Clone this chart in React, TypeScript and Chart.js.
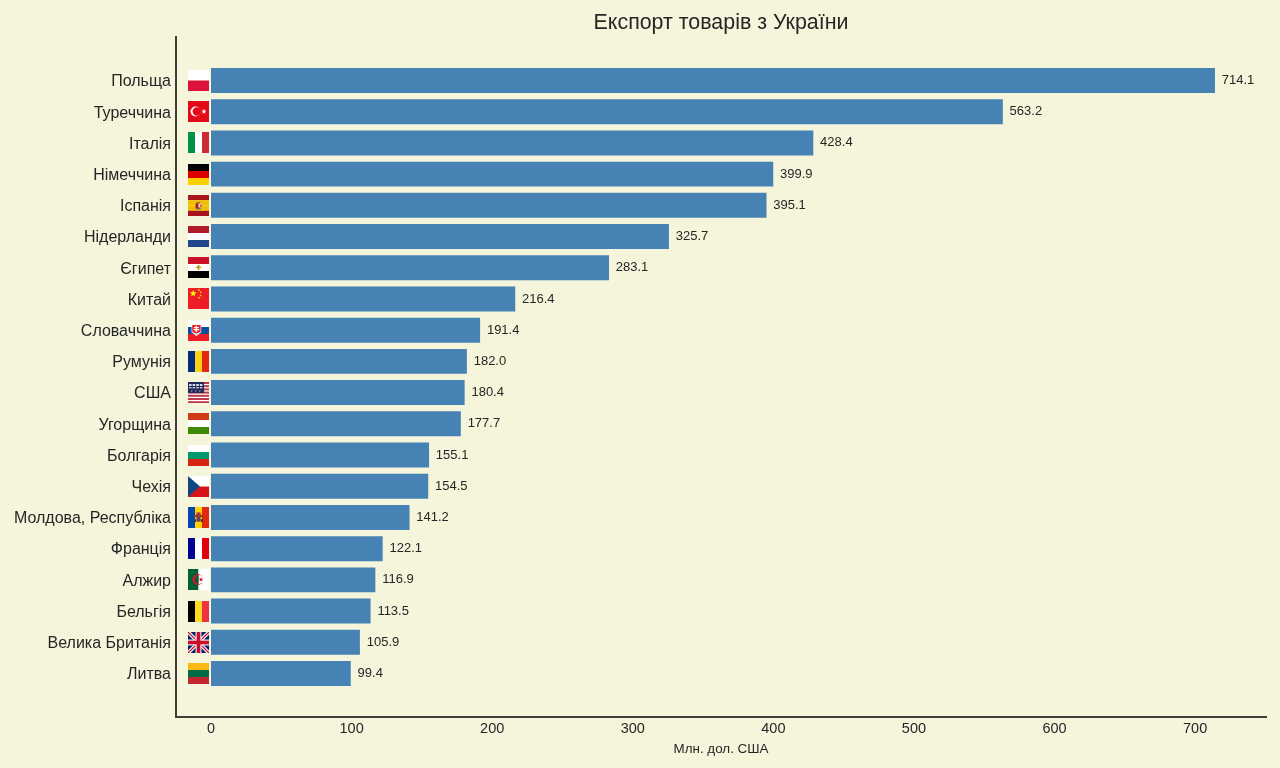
import React, { useEffect, useRef } from "react";
import { Chart, registerables } from "chart.js";

Chart.register(...registerables);

const countries = ["Польща", "Туреччина", "Італія", "Німеччина", "Іспанія", "Нідерланди", "Єгипет", "Китай", "Словаччина", "Румунія", "США", "Угорщина", "Болгарія", "Чехія", "Молдова, Республіка", "Франція", "Алжир", "Бельгія", "Велика Британія", "Литва"];
const exportsMln = [714.1, 563.2, 428.4, 399.9, 395.1, 325.7, 283.1, 216.4, 191.4, 182.0, 180.4, 177.7, 155.1, 154.5, 141.2, 122.1, 116.9, 113.5, 105.9, 99.4];
const xTicks = [0, 100, 200, 300, 400, 500, 600, 700];
const flagCodes = ["pl", "tr", "it", "de", "es", "nl", "eg", "cn", "sk", "ro", "us", "hu", "bg", "cz", "md", "fr", "dz", "be", "gb", "lt"];

const FONT = '"Liberation Sans", Arial, sans-serif';
const INK = "#262626";
const AXIS = "#3f3f3a";
const BG = "#f5f5dc";

type Ctx = CanvasRenderingContext2D;
const hStripes = (c: Ctx, x: number, y: number, s: number, cols: string[]) => {
  cols.forEach((col, i) => { c.fillStyle = col; c.fillRect(x, y + (s * i) / cols.length, s, s / cols.length); });
};
const vStripes = (c: Ctx, x: number, y: number, s: number, cols: string[]) => {
  cols.forEach((col, i) => { c.fillStyle = col; c.fillRect(x + (s * i) / cols.length, y, s / cols.length, s); });
};
const star = (c: Ctx, cx: number, cy: number, r: number, col: string) => {
  c.fillStyle = col; c.beginPath();
  for (let i = 0; i < 10; i++) {
    const a = -Math.PI / 2 + (i * Math.PI) / 5; const q = i % 2 ? r * 0.42 : r;
    c.lineTo(cx + q * Math.cos(a), cy + q * Math.sin(a));
  }
  c.closePath(); c.fill();
};
const disc = (c: Ctx, x: number, y: number, r: number, col: string) => { c.fillStyle = col; c.beginPath(); c.arc(x, y, r, 0, Math.PI * 2); c.fill(); };
const box = (c: Ctx, x: number, y: number, w: number, h: number, col: string) => { c.fillStyle = col; c.fillRect(x, y, w, h); };

const painters: Record<string, (c: Ctx, x: number, y: number, s: number) => void> = {
  pl: (c, x, y, s) => hStripes(c, x, y, s, ["#ffffff", "#dc143c"]),
  tr: (c, x, y, s) => {
    box(c, x, y, s, s, "#e30a17");
    disc(c, x + s * 0.36, y + s * 0.5, s * 0.24, "#ffffff");
    disc(c, x + s * 0.42, y + s * 0.5, s * 0.2, "#e30a17");
    star(c, x + s * 0.76, y + s * 0.5, s * 0.13, "#ffffff");
  },
  it: (c, x, y, s) => vStripes(c, x, y, s, ["#009246", "#ffffff", "#ce2b37"]),
  de: (c, x, y, s) => hStripes(c, x, y, s, ["#000000", "#dd0000", "#ffce00"]),
  es: (c, x, y, s) => {
    hStripes(c, x, y, s, ["#aa151b", "#f1bf00", "#f1bf00", "#aa151b"]);
    box(c, x + s * 0.38, y + s * 0.33, s * 0.2, s * 0.1, "#a8782a");
    box(c, x + s * 0.36, y + s * 0.42, s * 0.14, s * 0.22, "#ad1519");
    box(c, x + s * 0.5, y + s * 0.42, s * 0.14, s * 0.16, "#d8d4e0");
    box(c, x + s * 0.58, y + s * 0.46, s * 0.08, s * 0.1, "#c8404a");
    box(c, x + s * 0.4, y + s * 0.6, s * 0.2, s * 0.08, "#6a5a70");
  },
  nl: (c, x, y, s) => hStripes(c, x, y, s, ["#ae1c28", "#ffffff", "#21468b"]),
  eg: (c, x, y, s) => {
    hStripes(c, x, y, s, ["#ce1126", "#ffffff", "#000000"]);
    box(c, x + s * 0.46, y + s * 0.38, s * 0.08, s * 0.24, "#c09300");
    box(c, x + s * 0.38, y + s * 0.46, s * 0.24, s * 0.06, "#c09300");
  },
  cn: (c, x, y, s) => {
    box(c, x, y, s, s, "#ee1c25");
    star(c, x + s * 0.25, y + s * 0.26, s * 0.17, "#ffff00");
    [[0.52, 0.1], [0.6, 0.2], [0.6, 0.36], [0.52, 0.46]].forEach(([a, b]) => star(c, x + s * a, y + s * b, s * 0.06, "#ffff00"));
  },
  sk: (c, x, y, s) => {
    hStripes(c, x, y, s, ["#ffffff", "#0b4ea2", "#ee1c25"]);
    c.fillStyle = "#ffffff";
    c.beginPath();
    c.moveTo(x + s * 0.17, y + s * 0.22); c.lineTo(x + s * 0.63, y + s * 0.22); c.lineTo(x + s * 0.63, y + s * 0.58);
    c.lineTo(x + s * 0.4, y + s * 0.76); c.lineTo(x + s * 0.17, y + s * 0.58); c.closePath(); c.fill();
    c.fillStyle = "#ee1c25";
    c.beginPath();
    c.moveTo(x + s * 0.2, y + s * 0.24); c.lineTo(x + s * 0.6, y + s * 0.24); c.lineTo(x + s * 0.6, y + s * 0.56);
    c.lineTo(x + s * 0.4, y + s * 0.66); c.lineTo(x + s * 0.2, y + s * 0.56); c.closePath(); c.fill();
    box(c, x + s * 0.36, y + s * 0.28, s * 0.07, s * 0.3, "#ffffff");
    box(c, x + s * 0.28, y + s * 0.33, s * 0.24, s * 0.06, "#ffffff");
    box(c, x + s * 0.26, y + s * 0.43, s * 0.28, s * 0.06, "#ffffff");
  },
  ro: (c, x, y, s) => vStripes(c, x, y, s, ["#002b7f", "#fcd116", "#e2280f"]),
  us: (c, x, y, s) => {
    box(c, x, y, s, s, "#ffffff");
    for (let i = 0; i < 7; i++) box(c, x, y + i * 3.2, s, 2, "#bf3a48");
    box(c, x, y, s * 0.76, s * 0.52, "#1f2a5a");
    for (let k = 0; k < 4; k++) {
      box(c, x + 1 + k * 3.6, y + 2, 2.6, 2, "#d8dce8");
      box(c, x + 1 + k * 3.6, y + 5, 2.6, 1.4, "#c4c8dc");
    }
    for (let k = 0; k < 3; k++) box(c, x + 3 + k * 4, y + 8.5, 1.4, 1, "#aab0cc");
  },
  hu: (c, x, y, s) => hStripes(c, x, y, s, ["#d03a16", "#ffffff", "#3f8a00"]),
  bg: (c, x, y, s) => hStripes(c, x, y, s, ["#ffffff", "#00966e", "#d62612"]),
  cz: (c, x, y, s) => {
    hStripes(c, x, y, s, ["#ffffff", "#d7141a"]);
    c.fillStyle = "#11457e"; c.beginPath(); c.moveTo(x, y); c.lineTo(x + s * 0.57, y + s * 0.5); c.lineTo(x, y + s); c.closePath(); c.fill();
  },
  md: (c, x, y, s) => {
    vStripes(c, x, y, s, ["#0046ae", "#ffd200", "#e2280f"]);
    box(c, x + s * 0.28, y + s * 0.38, s * 0.44, s * 0.1, "#6a4a20");
    box(c, x + s * 0.4, y + s * 0.26, s * 0.2, s * 0.44, "#b03038");
    box(c, x + s * 0.44, y + s * 0.52, s * 0.14, s * 0.14, "#2a50a0");
    box(c, x + s * 0.3, y + s * 0.58, s * 0.08, s * 0.14, "#3a3a20");
    box(c, x + s * 0.62, y + s * 0.58, s * 0.08, s * 0.14, "#3a3a20");
  },
  fr: (c, x, y, s) => vStripes(c, x, y, s, ["#000091", "#ffffff", "#e1000f"]),
  dz: (c, x, y, s) => {
    vStripes(c, x, y, s, ["#006233", "#ffffff"]);
    disc(c, x + s * 0.47, y + s * 0.5, s * 0.26, "#d21034");
    c.save(); c.beginPath(); c.rect(x + s * 0.5, y, s * 0.5, s); c.clip();
    disc(c, x + s * 0.54, y + s * 0.5, s * 0.21, "#ffffff");
    c.restore();
    c.save(); c.beginPath(); c.rect(x, y, s * 0.5, s); c.clip();
    disc(c, x + s * 0.54, y + s * 0.5, s * 0.21, "#006233");
    c.restore();
    star(c, x + s * 0.62, y + s * 0.5, s * 0.12, "#d21034");
  },
  be: (c, x, y, s) => vStripes(c, x, y, s, ["#000000", "#fdda24", "#ef3340"]),
  gb: (c, x, y, s) => {
    box(c, x, y, s, s, "#012169");
    c.lineCap = "butt";
    c.strokeStyle = "#ffffff"; c.lineWidth = s * 0.17; c.beginPath();
    c.moveTo(x, y); c.lineTo(x + s, y + s); c.moveTo(x + s, y); c.lineTo(x, y + s); c.stroke();
    c.strokeStyle = "#c8102e"; c.lineWidth = s * 0.06; c.beginPath();
    c.moveTo(x, y); c.lineTo(x + s, y + s); c.moveTo(x + s, y); c.lineTo(x, y + s); c.stroke();
    box(c, x + s * 0.36, y, s * 0.28, s, "#ffffff");
    box(c, x, y + s * 0.36, s, s * 0.28, "#ffffff");
    box(c, x + s * 0.41, y, s * 0.18, s, "#c8102e");
    box(c, x, y + s * 0.41, s, s * 0.18, "#c8102e");
  },
  lt: (c, x, y, s) => hStripes(c, x, y, s, ["#fdb913", "#006a44", "#c1272d"]),
};

const decorations = {
  id: "decorations",
  beforeDraw(chart: any) {
    const c: Ctx = chart.ctx;
    c.save(); c.fillStyle = BG; c.fillRect(0, 0, chart.width, chart.height); c.restore();
  },
  afterDatasetsDraw(chart: any) {
    const c: Ctx = chart.ctx;
    const xs = chart.scales.x; const ys = chart.scales.y;
    c.save();
    const zeroX = xs.getPixelForValue(0);
    exportsMln.forEach((v, i) => {
      const cy = ys.getPixelForValue(i);
      const size = 21;
      const fx = Math.round(zeroX - 23);
      const fy = Math.round(cy - size / 2);
      c.save();
      c.beginPath(); c.rect(fx, fy, size, size); c.clip();
      painters[flagCodes[i]](c, fx, fy, size);
      c.restore();
      c.fillStyle = INK;
      c.font = `13px ${FONT}`;
      c.textAlign = "left";
      c.textBaseline = "middle";
      c.fillText(v.toFixed(1), xs.getPixelForValue(v) + 6.8, cy);
    });
    c.restore();
  },
};

export default function App() {
  const ref = useRef<HTMLCanvasElement | null>(null);
  useEffect(() => {
    const chart = new Chart(ref.current as HTMLCanvasElement, {
      type: "bar",
      plugins: [decorations],
      data: {
        datasets: [{
          data: exportsMln.map((v, i) => ({ x: v, y: i })),
          backgroundColor: "#4682b4",
          borderWidth: 0,
          barPercentage: 0.8,
          categoryPercentage: 1,
        }],
      } as any,
      options: {
        indexAxis: "y",
        animation: false,
        responsive: false,
        devicePixelRatio: 1,
        layout: { padding: { left: 0, right: 14, top: 0, bottom: 0 } },
        plugins: {
          legend: { display: false },
          tooltip: { enabled: false },
          title: {
            display: true,
            fullSize: false,
            text: "Експорт товарів з України",
            color: INK,
            font: { family: FONT, size: 21.4, weight: "normal" },
            padding: { top: 10, bottom: 1.3 },
          },
        },
        scales: {
          x: {
            type: "linear",
            bounds: "data",
            min: -24.9,
            max: 750.4,
            afterBuildTicks: (s: any) => { s.ticks = xTicks.map((value) => ({ value })); },
            afterFit: (s: any) => { s.height = 51; },
            grid: { display: false, drawTicks: false },
            border: { display: true, color: AXIS, width: 2 },
            ticks: { color: INK, font: { family: FONT, size: 14.5 }, padding: 3, maxRotation: 0, autoSkip: false, callback: (v: any) => String(v) },
            title: { display: true, text: "Млн. дол. США", color: INK, font: { family: FONT, size: 13.4 }, padding: { top: 4, bottom: 11 } },
          },
          y: {
            type: "linear",
            bounds: "data",
            offset: false,
            reverse: true,
            min: -1.394,
            max: 20.394,
            afterBuildTicks: (s: any) => { s.ticks = countries.map((_, value) => ({ value })); },
            afterFit: (s: any) => { s.width = 176; },
            grid: { display: false, drawTicks: false, offset: false },
            border: { display: true, color: AXIS, width: 2 },
            ticks: { color: INK, font: { family: FONT, size: 16 }, padding: 5, labelOffset: 1.4, autoSkip: false, callback: (v: any) => countries[v] },
          },
        },
      } as any,
    });
    return () => chart.destroy();
  }, []);
  return (
    <div style={{ position: "fixed", left: 0, top: 0, width: 1280, height: 768, background: BG }}>
      <canvas ref={ref} width={1280} height={768} style={{ display: "block" }} />
    </div>
  );
}
